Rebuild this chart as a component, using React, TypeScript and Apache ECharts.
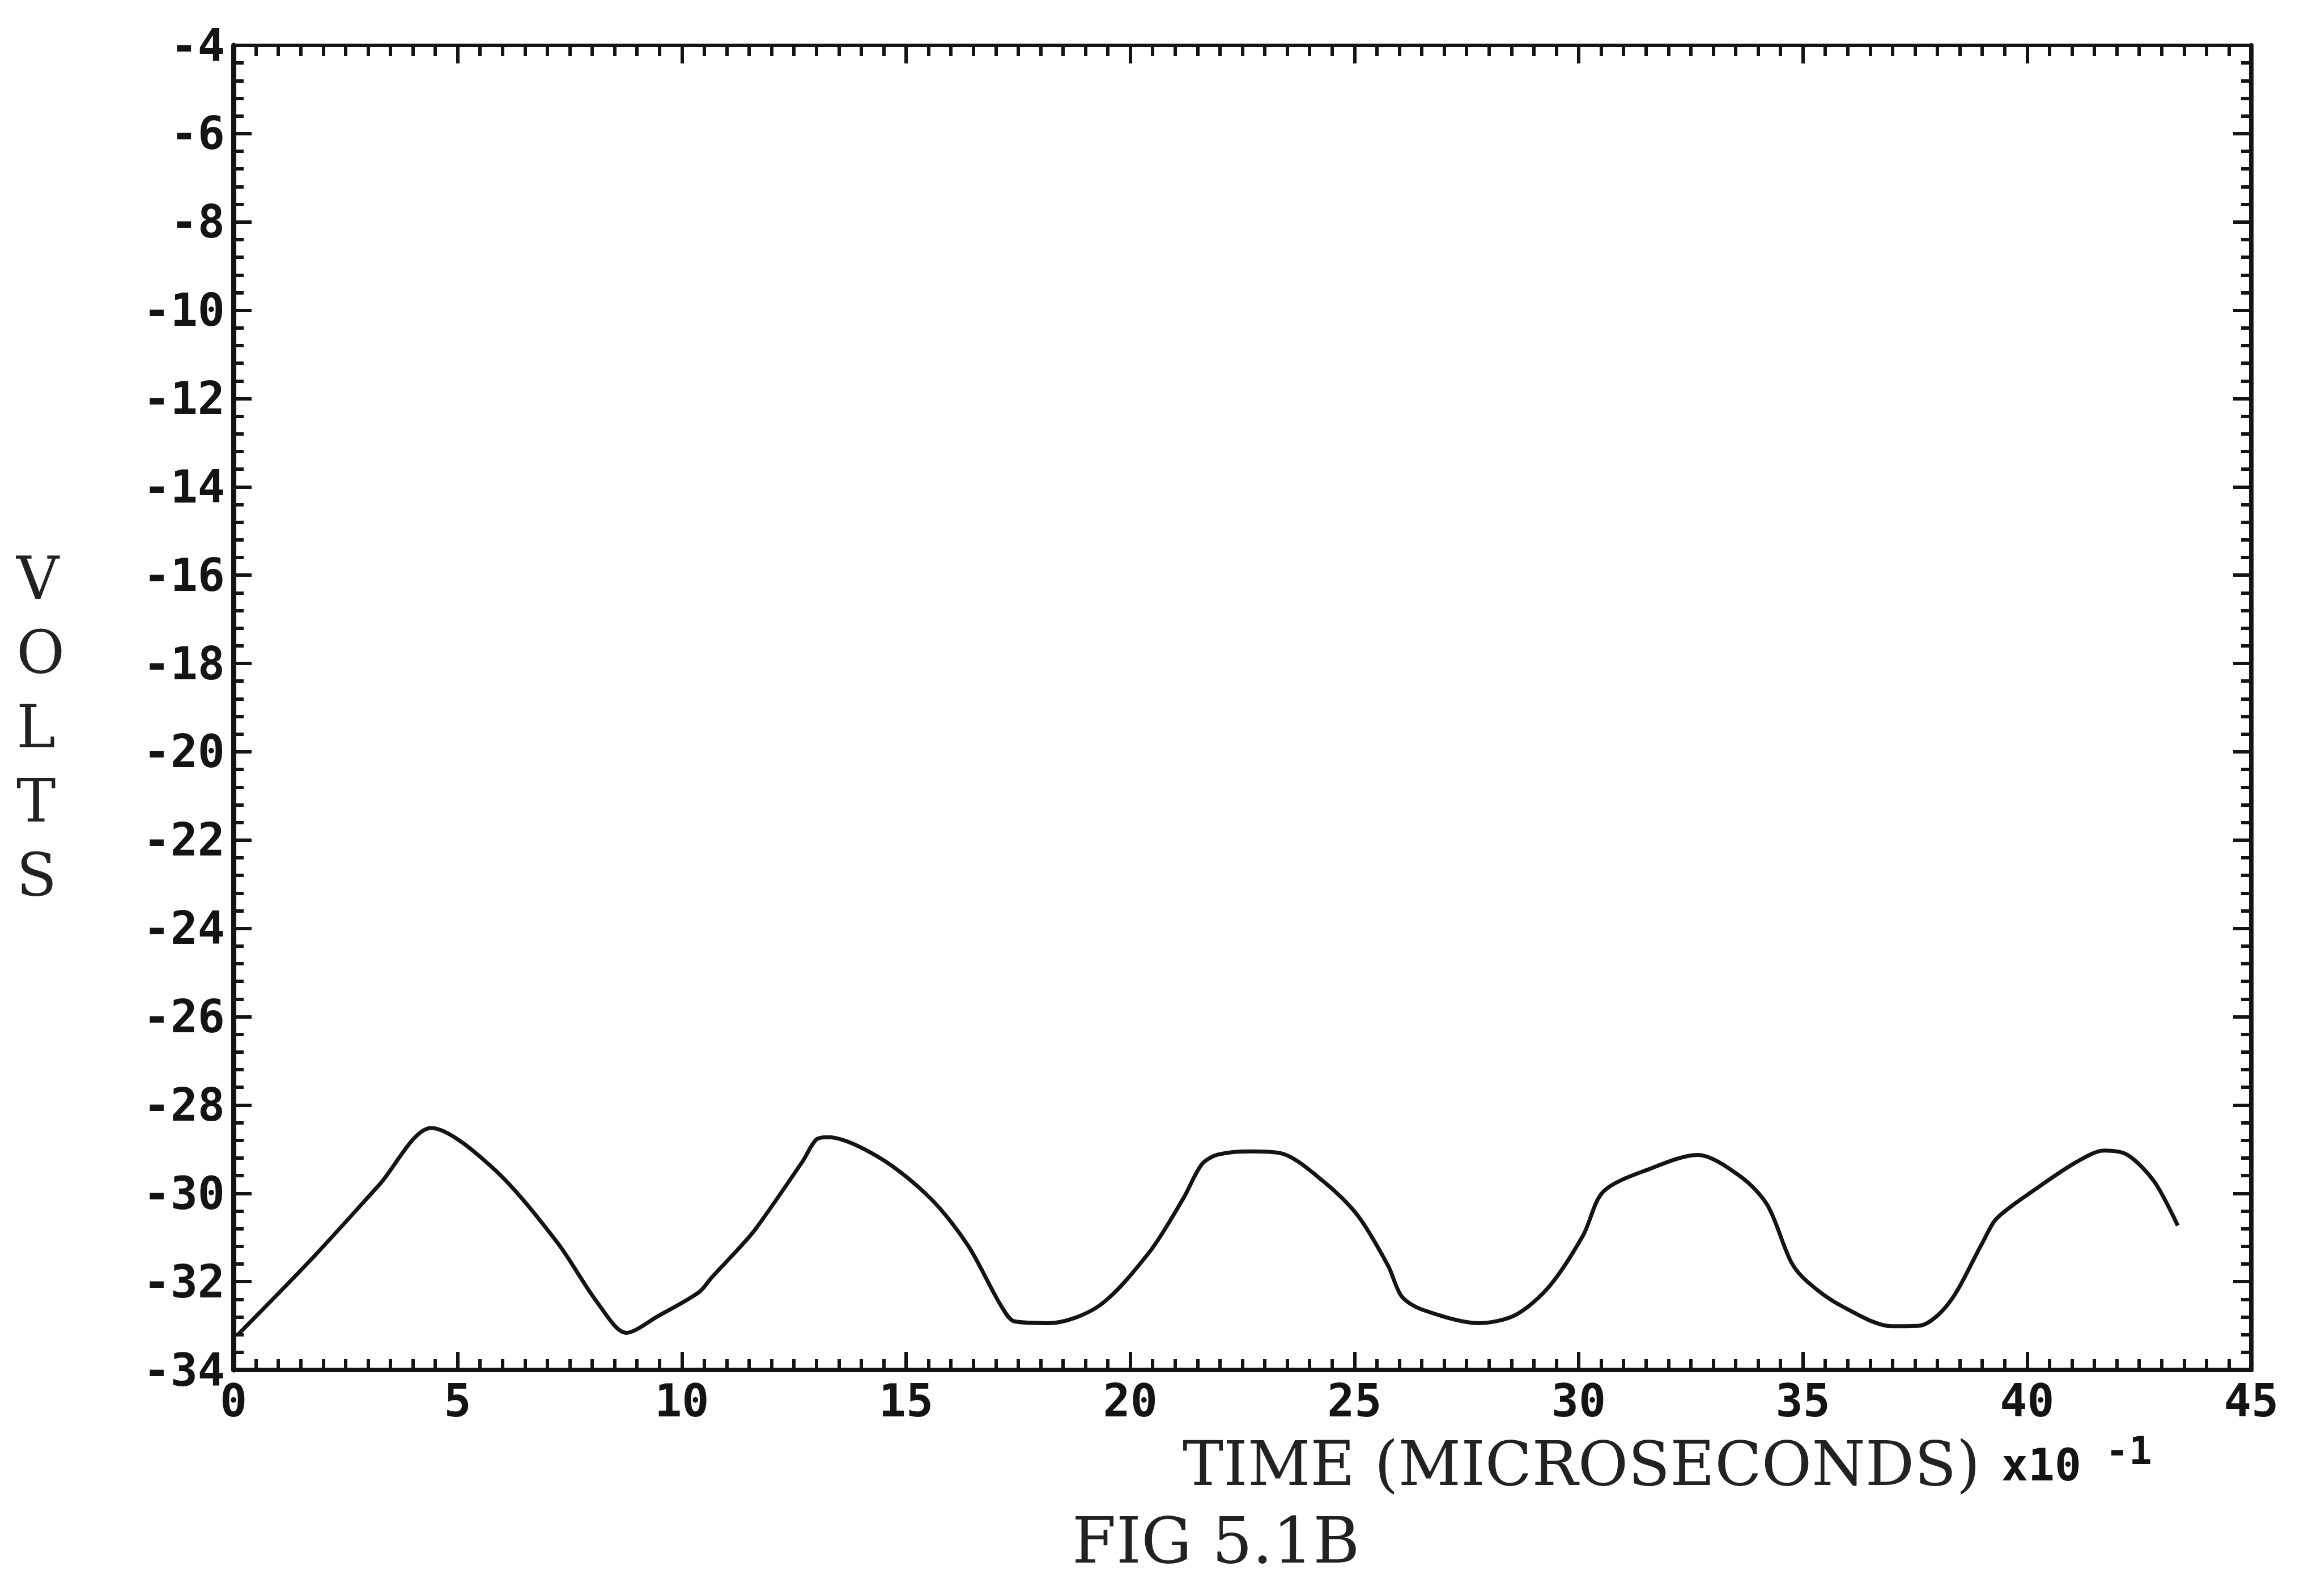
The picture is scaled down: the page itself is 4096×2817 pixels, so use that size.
import React, { useEffect, useRef } from "react";
import * as echarts from "echarts";

// ---- data (time in 10^-1 microseconds, volts) ----
const timeValues = [
  0.1, 1.74, 3.25, 4.41, 5.8, 7.22, 8.12, 8.76, 9.47, 10.38, 10.67, 11.26, 11.65,
  12.69, 13.0, 13.26, 14.42, 15.55, 16.38, 17.12, 17.42, 18.18, 19.3, 20.42, 21.18,
  21.59, 21.93, 22.67, 23.35, 24.32, 25.07, 25.75, 26.05, 26.5, 27.78, 28.6, 29.35,
  30.1, 30.55, 31.6, 32.65, 33.61, 34.21, 34.74, 35.12, 35.86, 36.99, 37.59, 38.26,
  39.01, 39.32, 40.21, 41.12, 41.72, 42.24, 42.84, 43.36,
];
const voltValues = [
  -33.2, -31.49, -29.81, -28.52, -29.44, -31.11, -32.48, -33.16, -32.78, -32.24, -31.9, -31.26, -30.8,
  -29.28, -28.78, -28.73, -29.2, -30.12, -31.18, -32.55, -32.9, -32.94, -32.55, -31.34, -30.12,
  -29.35, -29.13, -29.05, -29.09, -29.74, -30.5, -31.64, -32.33, -32.63, -32.94, -32.75, -32.1,
  -30.95, -29.96, -29.44, -29.13, -29.62, -30.27, -31.56, -32.02, -32.55, -33.01, -33.0, -32.48,
  -31.11, -30.57, -29.89, -29.28, -29.03, -29.13, -29.74, -30.73,
];
const xMin = 0;
const xMax = 45;
const xStep = 5;
const yMin = -34;
const yMax = -4;
const yStep = 2;

const yAxisTitle = "V\nO\nL\nT\nS";
const xAxisTitle = "TIME (MICROSECONDS)";
const xScaleBase = "x10";
const xScaleExp = "-1";
const figureCaption = "FIG 5.1B";

const W = 4096;
const H = 2817;
const INK = "#141414";
const PLOT_FONT = "DejaVu Sans Mono";
const TYPE_FONT = "DejaVu Serif";

export default function App() {
  const ref = useRef<HTMLDivElement>(null);

  useEffect(() => {
    const chart = echarts.init(ref.current!, null, { renderer: "svg", width: W, height: H });
    const data = timeValues.map((t, i) => [t, voltValues[i]]);

    const frameLine = (w: number) => ({ show: true, onZero: false, lineStyle: { color: INK, width: w } });
    const majorTick = { show: true, inside: true, length: 32, lineStyle: { color: INK, width: 6 } };
    const minorTickX = { show: true, splitNumber: 10, length: 19, lineStyle: { color: INK, width: 6 } };
    const minorTickY = { show: true, splitNumber: 5, length: 18, lineStyle: { color: INK, width: 6 } };
    const tickFont = { fontFamily: PLOT_FONT, fontWeight: "bold" as const, fontSize: 80, color: INK };

    chart.setOption({
      animation: false,
      backgroundColor: "#ffffff",
      grid: { left: 412, right: 123, top: 80, bottom: 399, containLabel: false },
      xAxis: [
        {
          type: "value", position: "bottom", min: xMin, max: xMax, interval: xStep,
          axisLine: frameLine(8), axisTick: majorTick, minorTick: minorTickX,
          axisLabel: { ...tickFont, margin: 14, showMinLabel: true, showMaxLabel: true },
          splitLine: { show: false }, minorSplitLine: { show: false },
        },
        {
          type: "value", position: "top", min: xMin, max: xMax, interval: xStep,
          axisLine: frameLine(6), axisTick: majorTick, minorTick: minorTickX,
          axisLabel: { show: false }, splitLine: { show: false },
        },
      ],
      yAxis: [
        {
          type: "value", position: "left", min: yMin, max: yMax, interval: yStep,
          axisLine: frameLine(9), axisTick: majorTick, minorTick: minorTickY,
          axisLabel: { ...tickFont, margin: 15, padding: [0, 0, 34, 0], showMinLabel: true, showMaxLabel: true },
          splitLine: { show: false },
        },
        {
          type: "value", position: "right", min: yMin, max: yMax, interval: yStep,
          axisLine: frameLine(8), axisTick: majorTick, minorTick: minorTickY,
          axisLabel: { show: false }, splitLine: { show: false },
        },
      ],
      series: [
        {
          type: "line", data, xAxisIndex: 0, yAxisIndex: 0, showSymbol: false, smooth: 0.3,
          lineStyle: { color: INK, width: 7 }, silent: true,
        },
      ],
      graphic: [
        {
          type: "text", left: 69 - 40, top: 1277 - 322,
          style: {
            text: yAxisTitle, fontFamily: TYPE_FONT, fontSize: 104, lineHeight: 131,
            fill: "#222", align: "center", width: 80,
          },
        },
        {
          type: "text", x: 2087, y: 2583,
          style: { text: xAxisTitle, fontFamily: TYPE_FONT, fontSize: 108, fill: "#222", align: "left", verticalAlign: "middle" },
        },
        {
          type: "text", x: 3532, y: 2586,
          style: { text: xScaleBase, fontFamily: PLOT_FONT, fontWeight: "bold", fontSize: 78, fill: INK, align: "left", verticalAlign: "middle" },
        },
        {
          type: "text", x: 3716, y: 2560,
          style: { text: xScaleExp, fontFamily: PLOT_FONT, fontWeight: "bold", fontSize: 68, fill: INK, align: "left", verticalAlign: "middle" },
        },
        {
          type: "text", x: 1892, y: 2719,
          style: { text: figureCaption, fontFamily: TYPE_FONT, fontSize: 112, fill: "#222", align: "left", verticalAlign: "middle" },
        },
      ],
    });

    return () => chart.dispose();
  }, []);

  return (
    <div
      ref={ref}
      style={{ position: "fixed", left: 0, top: 0, width: W, height: H, background: "#ffffff" }}
    />
  );
}
